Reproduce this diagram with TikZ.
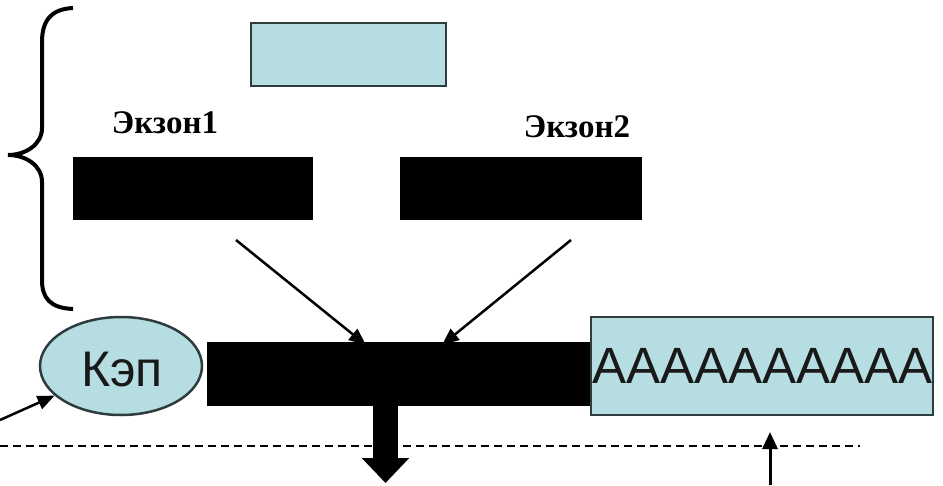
\documentclass[tikz,border=0pt]{standalone}
\usepackage{fontspec}
\setmainfont{Liberation Serif}
\newfontfamily\arialf{Liberation Sans}
\usetikzlibrary{arrows.meta,shapes.geometric}
\definecolor{lblue}{RGB}{182,221,226}
\definecolor{edgec}{RGB}{45,60,60}
\tikzset{
  boxlb/.style={draw=edgec,line width=2.5pt,fill=lblue,inner sep=0pt,minimum width=#1},
  exonbox/.style={fill=black,inner sep=0pt,minimum width=240pt,minimum height=63pt},
  thinarrow/.style={line width=2.5pt,-{Triangle[width=14pt,length=17pt]}},
  exlabel/.style={font=\fontsize{33}{33}\selectfont\bfseries,inner sep=0pt,anchor=base}
}
\begin{document}
\begin{tikzpicture}[x=1pt,y=-1pt]
\useasboundingbox (0,0) rectangle (943,485);
% top box
\node[boxlb=195pt,minimum height=63pt] (topbox) at (348.5,54.5) {};
% exons
\node[exonbox] (exon1) at (192.5,188) {};
\node[exonbox,minimum width=242pt] (exon2) at (521,188) {};
\node[exlabel] (lab1) at (165,133) {Экзон1};
\node[exlabel] (lab2) at (577,137) {Экзон2};
% brace
\draw[line width=4pt] (73,8) .. controls (50,9) and (42,22) .. (42,42) -- (42,128)
   .. controls (42,145) and (25,155) .. (8,155)
   .. controls (25,155) and (42,165) .. (42,182) -- (42,280)
   .. controls (42,298) and (50,308) .. (73,309);
% mRNA
\node[boxlb=342pt,minimum height=98pt] (polyA) at (762,366) {};
\node[fill=black,inner sep=0pt,minimum width=383pt,minimum height=64pt] (bar) at (398.5,374) {};
\node[ellipse,draw=edgec,line width=2.5pt,fill=lblue,inner sep=0pt,minimum width=162pt,minimum height=98pt] (cap) at (121,366) {};
\node[font=\arialf\fontsize{50}{50}\selectfont,inner sep=0pt,anchor=base,text=black!90] (captext) at (122,386) {Кэп};
\begin{scope}
\clip (polyA.north west) rectangle (polyA.south east);
\node[font=\arialf\fontsize{51}{51}\selectfont,inner sep=0pt,anchor=base,text=black!90] (atext) at (762.5,383) {AAAAAAAAAA};
\end{scope}
% arrows exons -> bar
\coordinate (s1) at (236,240);
\coordinate (e1) at (366,345);
\coordinate (s2) at (571,240);
\coordinate (e2) at (442,345);
\draw[thinarrow] (s1) -- (e1);
\draw[thinarrow] (s2) -- (e2);
% dashed line
\coordinate (dl) at (0,446);
\coordinate (dr) at (860,446);
\draw[line width=2pt,dash pattern=on 8pt off 5pt] (dl) -- (dr);
% thick down arrow
\coordinate (dn) at (385.5,483);
\draw[line width=25pt,-{Triangle[width=46pt,length=25pt]}] (dn |- bar.south) -- (dn);
% small arrows
\coordinate (la) at (0,420);
\draw[thinarrow] (la) -- (cap);
\coordinate (ub) at (770,485);
\coordinate (ut) at (770,432);
\draw[line width=3pt,-{Triangle[width=15pt,length=17pt]}] (ub) -- (ut);
\end{tikzpicture}
\end{document}
